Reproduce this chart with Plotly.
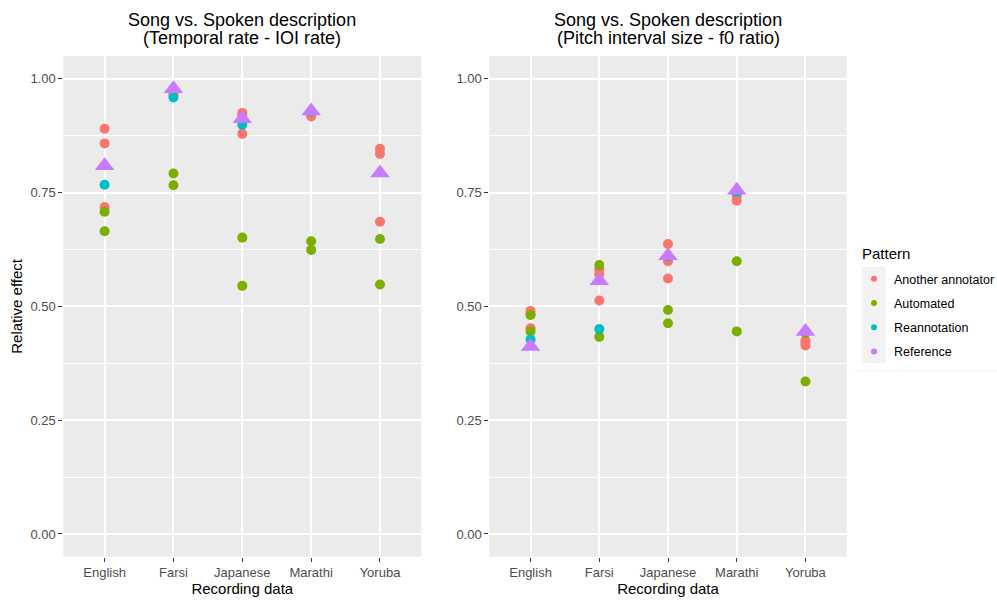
import plotly.graph_objects as go

languages = ["English", "Farsi", "Japanese", "Marathi", "Yoruba"]
patterns = ["Another annotator", "Automated", "Reannotation", "Reference"]
colors = {"Another annotator": "#F8766D", "Automated": "#7CAE00",
          "Reannotation": "#00BFC4", "Reference": "#C77CFF"}

# Left panel: Temporal rate - IOI rate
temporal_another_x = ["English", "English", "English", "Farsi", "Farsi",
                      "Japanese", "Japanese", "Japanese", "Marathi", "Marathi", "Marathi",
                      "Yoruba", "Yoruba", "Yoruba"]
temporal_another_y = [0.890, 0.858, 0.718, 0.968, 0.964,
                      0.925, 0.920, 0.879, 0.925, 0.921, 0.917,
                      0.846, 0.835, 0.686]
temporal_auto_x = ["English", "English", "Farsi", "Farsi", "Japanese", "Japanese",
                   "Marathi", "Marathi", "Yoruba", "Yoruba"]
temporal_auto_y = [0.708, 0.665, 0.792, 0.766, 0.651, 0.545, 0.643, 0.624, 0.648, 0.548]
temporal_reann_x = ["English", "Farsi", "Japanese", "Marathi"]
temporal_reann_y = [0.767, 0.959, 0.899, 0.928]
temporal_ref_x = ["English", "Farsi", "Japanese", "Marathi", "Yoruba"]
temporal_ref_y = [0.809, 0.978, 0.912, 0.929, 0.793]

# Right panel: Pitch interval size - f0 ratio
pitch_another_x = ["English", "English", "English", "Farsi", "Farsi", "Farsi",
                   "Japanese", "Japanese", "Japanese", "Marathi", "Marathi", "Marathi",
                   "Yoruba", "Yoruba", "Yoruba"]
pitch_another_y = [0.490, 0.482, 0.452, 0.581, 0.570, 0.513,
                   0.637, 0.599, 0.561, 0.748, 0.742, 0.732,
                   0.425, 0.420, 0.414]
pitch_auto_x = ["English", "English", "Farsi", "Farsi", "Japanese", "Japanese",
                "Marathi", "Marathi", "Yoruba", "Yoruba"]
pitch_auto_y = [0.481, 0.445, 0.591, 0.433, 0.492, 0.463, 0.599, 0.445, 0.442, 0.335]
pitch_reann_x = ["English", "Farsi", "Japanese", "Marathi"]
pitch_reann_y = [0.427, 0.450, 0.610, 0.751]
pitch_ref_x = ["English", "Farsi", "Japanese", "Marathi", "Yoruba"]
pitch_ref_y = [0.412, 0.556, 0.611, 0.755, 0.445]

y_tickvals = [0.0, 0.25, 0.5, 0.75, 1.0]
y_ticktext = ["0.00", "0.25", "0.50", "0.75", "1.00"]
y_minor = [0.125, 0.375, 0.625, 0.875]

W, H = 997, 601
FONT = "Liberation Sans, Arial, sans-serif"


def px(x):
    return x / W


def py(y):
    return 1 - y / H


fig = go.Figure()

panels = [
    ("x", "y", [(temporal_another_x, temporal_another_y, "Another annotator"),
                (temporal_auto_x, temporal_auto_y, "Automated"),
                (temporal_reann_x, temporal_reann_y, "Reannotation"),
                (temporal_ref_x, temporal_ref_y, "Reference")]),
    ("x2", "y2", [(pitch_another_x, pitch_another_y, "Another annotator"),
                  (pitch_auto_x, pitch_auto_y, "Automated"),
                  (pitch_reann_x, pitch_reann_y, "Reannotation"),
                  (pitch_ref_x, pitch_ref_y, "Reference")]),
]

for xa, ya, series in panels:
    for xs, ys, name in series:
        is_ref = name == "Reference"
        fig.add_trace(go.Scatter(
            x=xs, y=ys, mode="markers", name=name, showlegend=False,
            xaxis=xa, yaxis=ya,
            marker=dict(color=colors[name],
                        symbol="triangle-up" if is_ref else "circle",
                        size=17 if is_ref else 10,
                        line=dict(width=0)),
        ))

# legend-only entries (small dots like ggplot keys)
for name in patterns:
    fig.add_trace(go.Scatter(
        x=[None], y=[None], mode="markers", name=name, legendgroup=name,
        xaxis="x2", yaxis="y2",
        marker=dict(color=colors[name], size=6, symbol="circle"),
    ))

ydom = [py(556.7), py(56)]
common_x = dict(
    type="category", categoryorder="array", categoryarray=languages,
    range=[-0.6, 4.6], showgrid=True, gridcolor="white", gridwidth=2,
    zeroline=False, showline=False, ticks="outside", ticklen=4,
    tickcolor="#333333", tickwidth=1,
    tickfont=dict(family=FONT, size=13, color="#4D4D4D"),
    title=dict(text="Recording data", font=dict(family=FONT, size=15, color="black"),
               standoff=2),
    fixedrange=True,
)
common_y = dict(
    range=[-0.05, 1.05], domain=ydom, tickvals=y_tickvals, ticktext=y_ticktext,
    showgrid=True, gridcolor="white", gridwidth=2, zeroline=False, showline=False,
    ticks="outside", ticklen=4, tickcolor="#333333", tickwidth=1,
    tickfont=dict(family=FONT, size=13, color="#4D4D4D"),
    minor=dict(tickvals=y_minor, showgrid=True, gridcolor="white", gridwidth=1, ticks=""),
    fixedrange=True,
)

fig.update_layout(
    width=W, height=H, autosize=False,
    margin=dict(l=0, r=0, t=0, b=0, autoexpand=False),
    paper_bgcolor="white", plot_bgcolor="#EBEBEB",
    font=dict(family=FONT, color="black"),
    xaxis=dict(domain=[px(63.3), px(421.3)], anchor="y", **common_x),
    xaxis2=dict(domain=[px(489.3), px(846.7)], anchor="y2", **common_x),
    yaxis=dict(anchor="x",
               title=dict(text="Relative effect", font=dict(family=FONT, size=15, color="black"),
                          standoff=4),
               **common_y),
    yaxis2=dict(anchor="x2", **common_y),
    legend=dict(
        x=px(854), xanchor="left", y=py(264), yanchor="top",
        bgcolor="rgba(0,0,0,0)",
        font=dict(family=FONT, size=12.5, color="black"),
        tracegroupgap=5, itemwidth=30,
    ),
    showlegend=True,
)

# legend title
fig.add_annotation(x=px(860), y=py(253), xref="paper", yref="paper",
                   xanchor="left", yanchor="middle", showarrow=False,
                   text="Pattern", font=dict(family=FONT, size=15, color="black"))

# panel titles (two lines each, set with ggplot-like tight line spacing)
for xc, sub in [((63.3 + 421.3) / 2, "(Temporal rate - IOI rate)"),
                ((489.3 + 846.7) / 2, "(Pitch interval size - f0 ratio)")]:
    for yc, txt in [(20.5, "Song vs. Spoken description"), (38.5, sub)]:
        fig.add_annotation(
            x=px(xc), y=py(yc), xref="paper", yref="paper",
            xanchor="center", yanchor="middle", showarrow=False,
            text=txt, font=dict(family=FONT, size=18, color="black"),
        )

# legend key background (ggplot grey95 keys) and faint legend box line
fig.add_shape(type="rect", xref="paper", yref="paper",
              x0=px(861.7), x1=px(885.7), y0=py(363.3), y1=py(266.7),
              fillcolor="#F2F2F2", line=dict(width=0), layer="below")
fig.add_shape(type="line", xref="paper", yref="paper",
              x0=px(855), x1=1.0, y0=py(371), y1=py(371),
              line=dict(color="#F0F0F0", width=1))

fig.write_html(
    "out.html",
    config={"displayModeBar": False, "responsive": False},
    default_width="997px",
    default_height="601px",
    post_script=(
        "document.documentElement.style.overflow='hidden';"
        "document.body.style.margin='0';"
        "document.body.style.overflow='hidden';"
    ),
)
